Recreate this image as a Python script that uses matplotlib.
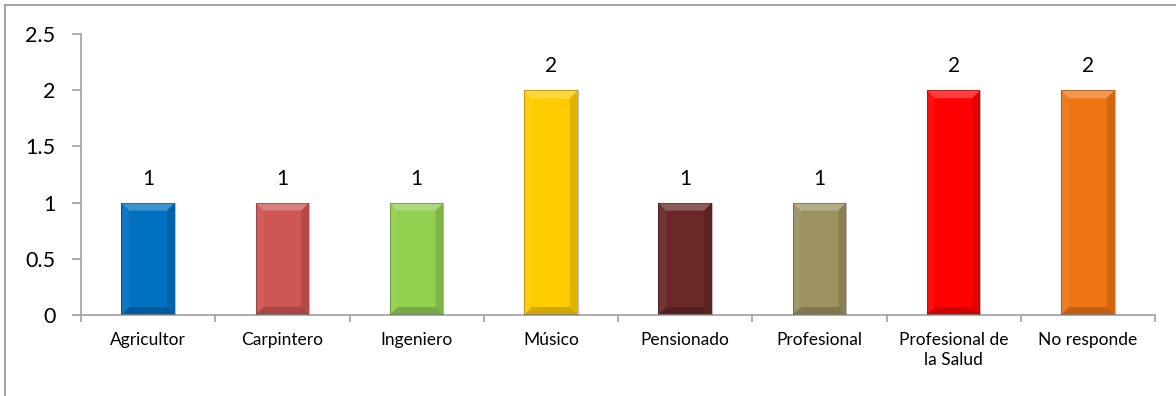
import matplotlib
matplotlib.use("Agg")
import matplotlib.pyplot as plt
from matplotlib.patches import Polygon
from matplotlib.lines import Line2D
import numpy as np

categories = ["Agricultor", "Carpintero", "Ingeniero", "Músico", "Pensionado",
              "Profesional", "Profesional de\nla Salud", "No responde"]
values = [1, 1, 1, 2, 1, 1, 2, 2]
colors = ["#0070C0", "#CD5552", "#92D050", "#FFCC00", "#6B2828",
          "#9C9260", "#FF0000", "#EE7514"]
yticks = [0, 0.5, 1, 1.5, 2, 2.5]
ytick_labels = ["0", "0.5", "1", "1.5", "2", "2.5"]

plt.rcParams['font.family'] = ['Lato', 'DejaVu Sans']

W, H = 1176, 396
fig = plt.figure(figsize=(W / 100, H / 100), dpi=100)
ax = fig.add_axes([81 / W, 1 - 315 / H, (1155 - 81) / W, (315 - 34) / H])

x = np.arange(len(categories))
bw = 0.4
bars = ax.bar(x, values, width=bw, color=colors, edgecolor="none", zorder=2)

ax.set_xlim(-0.5, len(categories) - 0.5)
ax.set_ylim(0, 2.5)

# bevel shading derived from bar geometry
fig.canvas.draw()
inv = ax.transData.inverted()
p0 = inv.transform((0, 0))
p1 = inv.transform((8, 8))
dx, dy = p1[0] - p0[0], p1[1] - p0[1]
for b, c in zip(bars, colors):
    x0, y0 = b.get_x(), b.get_y()
    x1, y1 = x0 + b.get_width(), y0 + b.get_height()
    top = [(x0, y1), (x1, y1), (x1 - dx, y1 - dy), (x0 + dx, y1 - dy)]
    bot = [(x0, y0), (x1, y0), (x1 - dx, y0 + dy), (x0 + dx, y0 + dy)]
    lft = [(x0, y0), (x0, y1), (x0 + dx, y1 - dy), (x0 + dx, y0 + dy)]
    rgt = [(x1, y0), (x1, y1), (x1 - dx, y1 - dy), (x1 - dx, y0 + dy)]
    ax.add_patch(Polygon(top, closed=True, facecolor="white", alpha=0.25, edgecolor="none", zorder=3))
    ax.add_patch(Polygon(lft, closed=True, facecolor="white", alpha=0.06, edgecolor="none", zorder=3))
    ax.add_patch(Polygon(rgt, closed=True, facecolor="black", alpha=0.12, edgecolor="none", zorder=3))
    ax.add_patch(Polygon(bot, closed=True, facecolor="black", alpha=0.18, edgecolor="none", zorder=3))
    ax.add_patch(Polygon([(x0, y0), (x0, y1), (x1, y1), (x1, y0)], closed=True,
                         facecolor="none", edgecolor="black", alpha=0.25, lw=0.8, zorder=4))

for xi, v in zip(x, values):
    ax.annotate(f"{v}", (xi, v), xytext=(0, 10), textcoords="offset points",
                ha="center", va="bottom", fontsize=15, color="black")

ax.set_yticks(yticks)
ax.set_yticklabels(ytick_labels, fontsize=15.5)
ax.set_xticks(x)
ax.set_xticklabels(categories, fontsize=12.5, linespacing=1.35)
ax.tick_params(axis="x", length=0, pad=12)
ax.set_xticks(np.arange(len(categories) + 1) - 0.5, minor=True)
ax.tick_params(axis="x", which="minor", length=5, color="#A0A0A0", width=1.2)
ax.tick_params(axis="y", length=6.5, color="#A0A0A0", width=1.2, pad=12)

for s in ["top", "right"]:
    ax.spines[s].set_visible(False)
for s in ["left", "bottom"]:
    ax.spines[s].set_color("#A0A0A0")
    ax.spines[s].set_linewidth(1.2)

# outer chart border (top and left visible)
fig.add_artist(Line2D([5 / W, 1], [1 - 5 / H, 1 - 5 / H], color="#A6A6A6", lw=1.5, transform=fig.transFigure))
fig.add_artist(Line2D([5 / W, 5 / W], [0, 1 - 5 / H], color="#A6A6A6", lw=1.5, transform=fig.transFigure))

fig.savefig("out.png", dpi=100)
